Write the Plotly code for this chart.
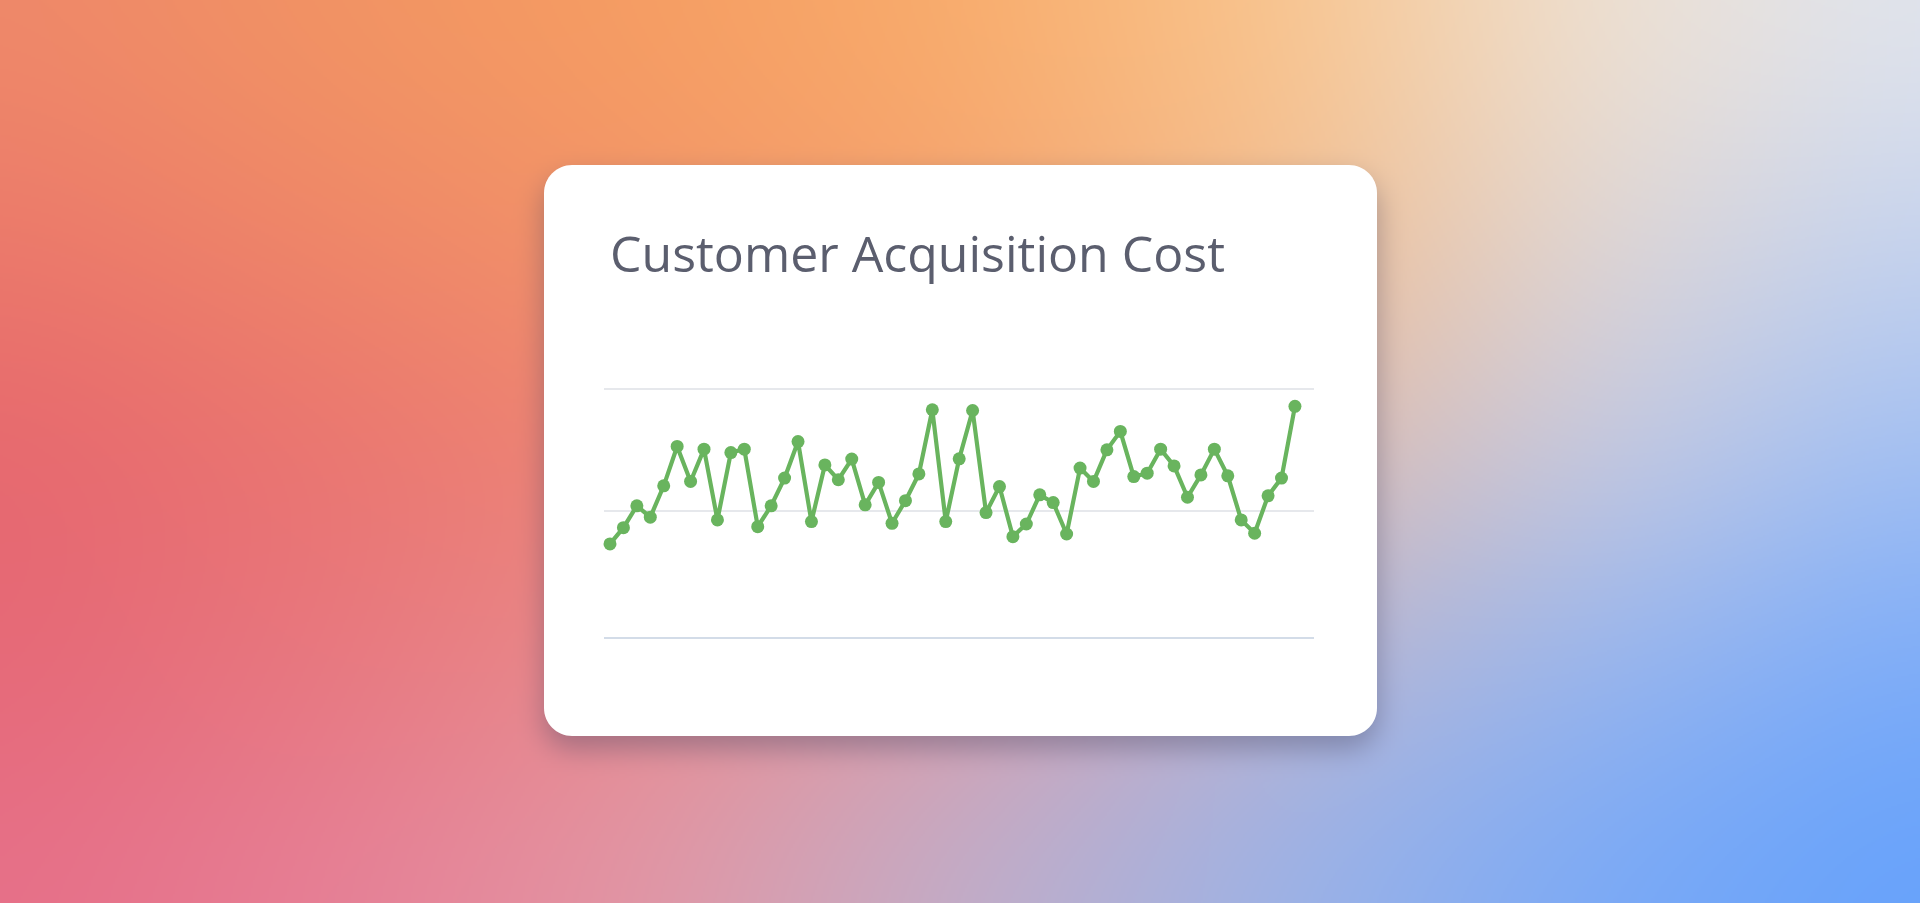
import base64
import struct
import zlib

import numpy as np
import plotly.graph_objects as go

W, H = 1920, 903

# ========== Data ==========
periods = list(range(52))
cac_values = [
    36.4, 43.1, 52.1, 47.4, 60.3, 76.5, 62.1, 75.4, 46.3, 74.0,
    75.4, 43.5, 52.1, 63.5, 78.5, 45.6, 68.9, 62.8, 71.3, 52.5,
    61.7, 44.9, 54.2, 65.2, 91.6, 45.6, 71.4, 91.3, 49.3, 60.0,
    39.4, 44.6, 56.6, 53.4, 40.5, 67.6, 62.1, 75.1, 82.7, 64.1,
    65.5, 75.4, 68.5, 55.6, 64.8, 75.4, 64.4, 46.3, 40.8, 56.2,
    63.5, 93.0,
]
grid_values = [50, 100]
title_text = "Customer Acquisition Cost"

# background colour mesh (rows top -> bottom, cols left -> right)
bg_cols = [0, 320, 640, 960, 1280, 1600, 1920]
bg_rows = [0, 225, 450, 675, 903]
bg_mesh = [
    ["#EF8A6A", "#F29563", "#F69F62", "#F9AE6C", "#FAC68E", "#F0E2D2", "#E3E7EF"],
    ["#EC7A6B", "#EF8868", "#F39568", "#F6A46E", "#F4BE8E", "#E2D8D4", "#C6D4F0"],
    ["#E6666E", "#EA7470", "#EE8474", "#EE9480", "#E0BCAE", "#C8CAE0", "#A0BFF4"],
    ["#E66878", "#E87880", "#E88C90", "#D8A0B0", "#B8B6D4", "#96B4EE", "#78AAFA"],
    ["#E6708A", "#E6809A", "#E298A8", "#BEB0CC", "#98B2EA", "#76A8F8", "#62A0FC"],
]

# card geometry (pixels)
card = dict(x0=544, y0=165, x1=1377, y1=736, r=28)


# ========== Background image ==========
def hex_rgb(h):
    return [int(h[i:i + 2], 16) for i in (1, 3, 5)]


def box_blur(a, r, axis):
    pad = [(0, 0)] * a.ndim
    pad[axis] = (r + 1, r)
    p = np.pad(a, pad, mode="edge")
    c = np.cumsum(p, axis=axis)
    n = a.shape[axis]
    hi = np.take(c, np.arange(2 * r + 1, 2 * r + 1 + n), axis=axis)
    lo = np.take(c, np.arange(0, n), axis=axis)
    return (hi - lo) / (2 * r + 1)


def blur(a, r, passes=3):
    for _ in range(passes):
        a = box_blur(a, r, 0)
        a = box_blur(a, r, 1)
    return a


def png_uri(rgb):
    h, w, _ = rgb.shape
    a = rgb.astype(np.int16)
    sub = (a - np.concatenate([np.zeros((h, 1, 3), np.int16), a[:, :-1]], axis=1)) % 256
    sub = sub.astype(np.uint8).reshape(h, w * 3)
    raw = b"".join(b"\x01" + sub[i].tobytes() for i in range(h))

    def chunk(tag, data):
        return struct.pack(">I", len(data)) + tag + data + struct.pack(">I", zlib.crc32(tag + data) & 0xffffffff)

    png = (b"\x89PNG\r\n\x1a\n"
           + chunk(b"IHDR", struct.pack(">IIBBBBB", w, h, 8, 2, 0, 0, 0))
           + chunk(b"IDAT", zlib.compress(raw, 9))
           + chunk(b"IEND", b""))
    return "data:image/png;base64," + base64.b64encode(png).decode()


s = 2  # background rendered at half resolution
bw, bh = W // s, int(np.ceil(H / s))
xs = (np.arange(bw) + 0.5) * s
ys = (np.arange(bh) + 0.5) * s
mesh = np.array([[hex_rgb(c) for c in row] for row in bg_mesh], float)
rows_interp = np.stack([
    np.stack([np.interp(xs, bg_cols, mesh[i, :, k]) for k in range(3)], axis=-1)
    for i in range(len(bg_rows))
])
bg = np.stack([
    np.stack([np.interp(ys, bg_rows, rows_interp[:, j, k]) for j in range(bw)], axis=1)
    for k in range(3)
], axis=-1)
bg = blur(bg, 40)

# soft drop shadow under the card
X, Y = np.meshgrid(xs, ys)
sy = 14
dx = np.maximum.reduce([card["x0"] + card["r"] - X, np.zeros_like(X), X - (card["x1"] - card["r"])])
dy = np.maximum.reduce([card["y0"] + sy + card["r"] - Y, np.zeros_like(Y), Y - (card["y1"] + sy - card["r"])])
mask = (dx ** 2 + dy ** 2 <= card["r"] ** 2).astype(float)
mask = blur(mask, 6)
alpha = 0.4 * mask[..., None]
bg = bg * (1 - alpha) + np.array([70, 70, 100]) * alpha
bg_uri = png_uri(np.clip(bg, 0, 255).astype(np.uint8))


# ========== Card path (paper coords) ==========
def px(x):
    return x / W


def py(y):
    return 1 - y / H


def rounded_rect(x0, y0, x1, y1, r):
    k = 0.5523 * r
    pts = [
        f"M {px(x0 + r)} {py(y0)}",
        f"L {px(x1 - r)} {py(y0)}",
        f"C {px(x1 - r + k)} {py(y0)} {px(x1)} {py(y0 + r - k)} {px(x1)} {py(y0 + r)}",
        f"L {px(x1)} {py(y1 - r)}",
        f"C {px(x1)} {py(y1 - r + k)} {px(x1 - r + k)} {py(y1)} {px(x1 - r)} {py(y1)}",
        f"L {px(x0 + r)} {py(y1)}",
        f"C {px(x0 + r - k)} {py(y1)} {px(x0)} {py(y1 - r + k)} {px(x0)} {py(y1 - r)}",
        f"L {px(x0)} {py(y0 + r)}",
        f"C {px(x0)} {py(y0 + r - k)} {px(x0 + r - k)} {py(y0)} {px(x0 + r)} {py(y0)}",
        "Z",
    ]
    return " ".join(pts)


# ========== Main Viz ==========
fig = go.Figure()

fig.add_trace(go.Scatter(
    x=periods,
    y=cac_values,
    mode="lines+markers",
    line=dict(color="#69B45E", width=4.2),
    marker=dict(color="#69B45E", size=13),
    cliponaxis=False,
    hoverinfo="skip",
    showlegend=False,
))

fig.update_layout(
    width=W,
    height=H,
    margin=dict(l=0, r=0, t=0, b=0, pad=0),
    paper_bgcolor="#F0907A",
    plot_bgcolor="rgba(0,0,0,0)",
    images=[dict(
        source=bg_uri, xref="paper", yref="paper", x=0, y=1, sizex=1, sizey=1,
        xanchor="left", yanchor="top", sizing="stretch", layer="below",
    )],
    shapes=[dict(
        type="path", xref="paper", yref="paper", layer="below",
        path=rounded_rect(card["x0"], card["y0"], card["x1"], card["y1"], card["r"]),
        fillcolor="white", line=dict(width=0),
    )],
    annotations=[dict(
        text=title_text, xref="paper", yref="paper", x=px(608), y=py(253),
        xanchor="left", yanchor="middle", showarrow=False,
        font=dict(family="Open Sans", size=50, color="#5B5E6E"),
    )],
    xaxis=dict(
        domain=[px(604), px(1314)], range=[-0.447, 52.42],
        showgrid=False, zeroline=False, showticklabels=False, ticks="",
        showline=True, linecolor="#D3DCE8", linewidth=2,
    ),
    yaxis=dict(
        domain=[py(637.3), py(379.6)], range=[-2, 104],
        tickvals=grid_values, showgrid=True, gridcolor="#E6E8EC", gridwidth=2,
        zeroline=False, showticklabels=False, ticks="", showline=False,
    ),
)

fig.write_html(
    "out.html",
    config={"displayModeBar": False},
    post_script="document.body.style.margin='0';",
)
